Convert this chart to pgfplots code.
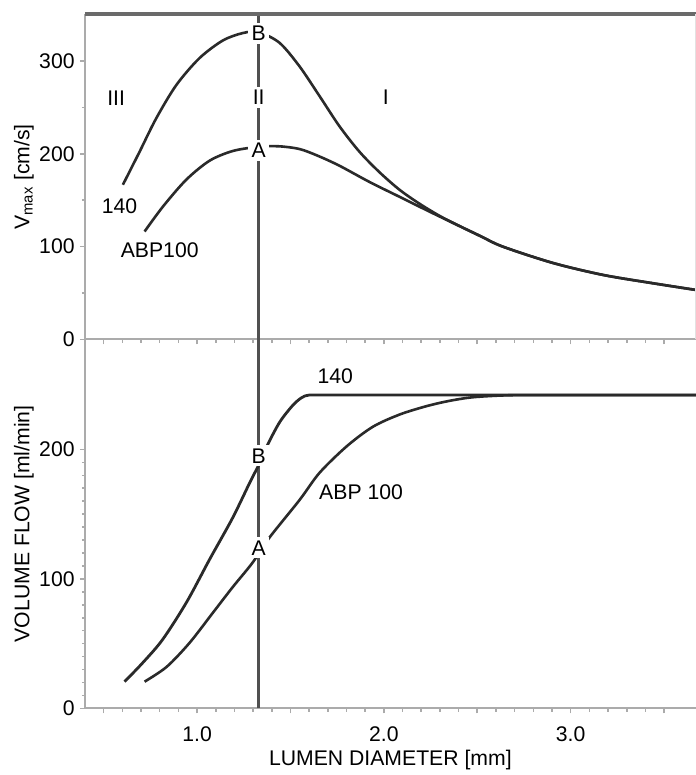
\documentclass[border=0pt]{standalone}
\usepackage{pgfplots}
\pgfplotsset{compat=1.18}
\usepackage{fontspec}
\setmainfont{Liberation Sans}

\definecolor{curve}{HTML}{2A2A2A}
\definecolor{vline}{HTML}{505050}
\definecolor{frame}{HTML}{ABABAB}

\tikzset{lbl/.style={fill=white, inner sep=1.6pt}}

\pgfplotsset{
  panel/.style={
    scale only axis, width=305.5pt,
    xmin=0.4, xmax=3.67,
    clip=false,
    axis lines*=left,
    axis line style={frame, line width=1pt, -},
    tick align=outside,
    tick style={frame, line width=0.8pt},
    major tick length=2.5pt, minor tick length=1.6pt,
    xtick={0.5,1,1.5,2,2.5,3,3.5},
    minor x tick num=4,
    font=\fontsize{10.6}{12}\selectfont,
    /pgf/number format/assume math mode=true,
    every axis y label/.style={at={(axis description cs:-0.1,0.5)}, rotate=90, anchor=center},
    yticklabel style={inner sep=0pt, xshift=-2.5pt},
    xticklabel style={yshift=-3pt},
  },
}

\begin{document}
\begin{tikzpicture}
% upper panel: peak velocity
\begin{axis}[panel, at={(0,184.5pt)}, anchor=south west, height=162.5pt,
  ymin=0, ymax=350, ytick={0,100,200,300}, minor y tick num=1,
  xticklabels={}, ylabel={V\textsubscript{max} [cm/s]}]
  \addplot[vline, line width=1.4pt] coordinates {(1.33,0) (1.33,350)};
  % 140
  \addplot[curve, line width=1.3pt, smooth] coordinates {
    (0.603,166.6) (0.692,202) (0.781,238) (0.889,274) (1.013,303)
    (1.138,322) (1.245,330) (1.33,331) (1.442,319.4) (1.549,294)
    (1.656,262) (1.763,229.4) (1.870,202) (1.977,180) (2.085,161)
    (2.192,146) (2.299,133) (2.406,122) (2.520,111) (2.636,100)
    (2.904,82.4) (3.172,69.5) (3.440,60.5) (3.67,53.3)};
  % ABP 100
  \addplot[curve, line width=1.3pt, smooth] coordinates {
    (0.719,116.2) (0.817,143) (0.942,172) (1.067,192.5) (1.192,203)
    (1.33,207.5) (1.44,208) (1.55,205) (1.65,197.5) (1.763,187)
    (1.924,169.5) (2.085,153.5) (2.246,137.5) (2.406,122) (2.520,111)
    (2.636,100) (2.904,82.4) (3.172,69.5) (3.440,60.5) (3.67,53.3)};
  \draw[vline!85!white, line width=2pt] (rel axis cs:0,1) -- (rel axis cs:1,1);
  \draw[frame!35!white, line width=0.8pt] (rel axis cs:1,0) -- (rel axis cs:1,1);
  \node at (axis cs:0.567,260) {III};
  \node at (axis cs:2.01,261) {I};
  \node[lbl] at (axis cs:1.33,261) {II};
  \node[lbl] at (axis cs:1.33,330) {B};
  \node[lbl] at (axis cs:1.33,204) {A};
  \node at (axis cs:0.585,143) {140};
  \node at (axis cs:0.80,96.4) {ABP100};
\end{axis}

% lower panel: volume flow
\begin{axis}[panel, at={(0,0)}, anchor=south west, height=184.5pt,
  ymin=0, ymax=285, ytick={0,100,200}, minor y tick num=9,
  xticklabels={,1.0,,2.0,,3.0,},
  ylabel={VOLUME FLOW [ml/min]},
  xlabel={LUMEN DIAMETER [mm]},
  every axis x label/.style={at={(axis description cs:0.5,0)}, anchor=center, yshift=-26pt}]
  \addplot[vline, line width=1.4pt] coordinates {(1.33,0) (1.33,285)};
  % 140
  \addplot[curve, line width=1.4pt, smooth] coordinates {
    (0.612,20.6) (0.708,35) (0.815,53) (0.944,82) (1.067,115)
    (1.190,147) (1.281,174) (1.33,188) (1.372,202) (1.442,221)
    (1.512,234) (1.56,240) (1.60,242) (1.70,242) (2.5,242) (3.67,242)};
  % ABP 100
  \addplot[curve, line width=1.3pt, smooth] coordinates {
    (0.719,20.6) (0.837,32) (0.960,50.6) (1.083,73.5) (1.190,93.5)
    (1.297,112.5) (1.388,132) (1.549,161) (1.656,182) (1.801,202.4)
    (1.941,217.5) (2.085,227) (2.230,233.5) (2.35,237.5) (2.476,240.3)
    (2.66,241.8) (2.9,242) (3.67,242)};
  \node at (axis cs:1.74,256.7) {140};
  \node[lbl] at (axis cs:1.33,195) {B};
  \node[lbl] at (axis cs:1.33,124) {A};
  \node at (axis cs:1.878,167) {ABP 100};
\end{axis}
\pgfresetboundingbox
\path[use as bounding box] (-42.5pt,-33.35pt) rectangle (305.5pt,354.25pt);
\end{tikzpicture}
\end{document}
